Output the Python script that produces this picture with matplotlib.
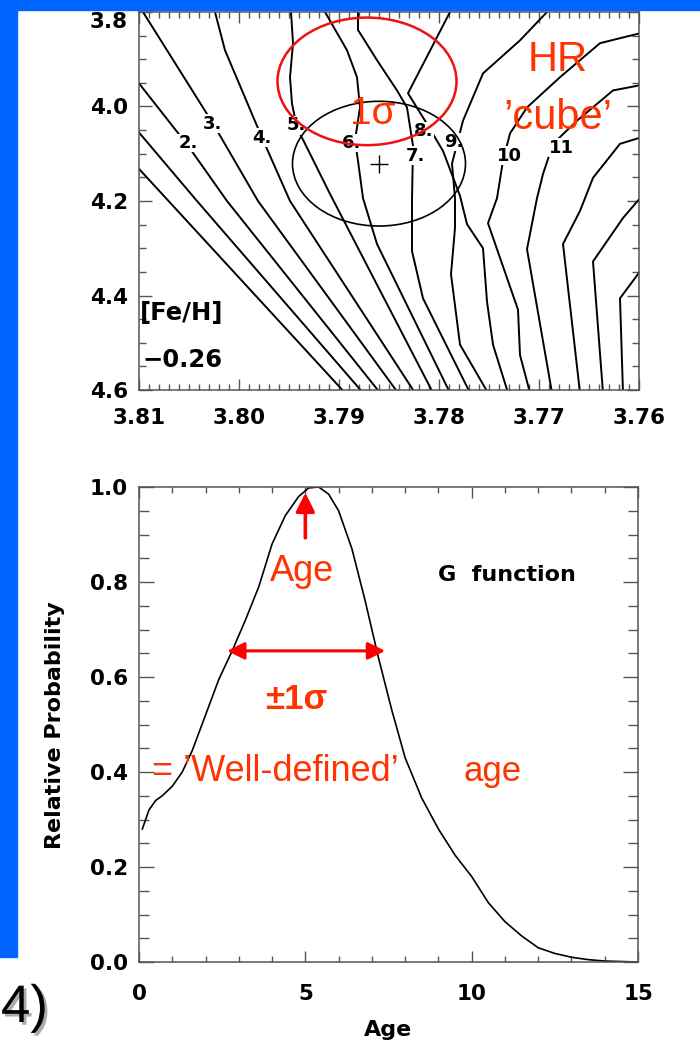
import numpy as np
import matplotlib.pyplot as plt
from matplotlib.patches import Ellipse, Rectangle
from matplotlib.ticker import MultipleLocator, FormatStrFormatter
import matplotlib.patheffects as pe

# isochrones in the (log Teff, log g) plane: (teff list, logg list)
iso_a = ([3.8100, 3.7894], [4.132, 4.606])
iso_b = ([3.8100, 3.8042, 3.7876], [4.055, 4.200, 4.606])
iso_c = ([3.8100, 3.8051, 3.8012, 3.7859], [3.951, 4.083, 4.200, 4.606])
iso_d = ([3.8096, 3.8026, 3.7981, 3.7841], [3.800, 4.036, 4.200, 4.606])
iso_e = ([3.8024, 3.8014, 3.7977, 3.7949, 3.7824], [3.800, 3.881, 4.066, 4.200, 4.606])
iso_f = ([3.7948, 3.7946, 3.7949, 3.7947, 3.7942, 3.7929, 3.7909, 3.7806],
         [3.800, 3.866, 3.938, 3.994, 4.045, 4.100, 4.185, 4.606])
iso_g = ([3.7914, 3.7892, 3.7882, 3.7879, 3.7884, 3.7881, 3.7876, 3.7862, 3.7789],
         [3.800, 3.881, 3.938, 4.002, 4.072, 4.115, 4.194, 4.291, 4.606])
iso_h = ([3.7881, 3.7881, 3.7862, 3.7842, 3.7832, 3.7826, 3.7827, 3.7827, 3.7816, 3.7769],
         [3.800, 3.838, 3.902, 3.966, 4.002, 4.083, 4.200, 4.306, 4.406, 4.606])
iso_i = ([3.7692, 3.7719, 3.7756, 3.7776, 3.7787, 3.7784, 3.7784, 3.7788, 3.7779, 3.7751],
         [3.800, 3.860, 3.930, 4.030, 4.121, 4.194, 4.257, 4.355, 4.504, 4.606])
iso_j = ([3.7789, 3.7831, 3.7814, 3.7796, 3.7779, 3.7772, 3.7756, 3.7752, 3.7746, 3.7731],
         [3.800, 3.972, 4.030, 4.094, 4.189, 4.249, 4.300, 4.413, 4.504, 4.606])
iso_k = ([3.7599, 3.7639, 3.7679, 3.7712, 3.7729, 3.7736, 3.7742, 3.7751, 3.7721, 3.7719, 3.7709],
         [3.845, 3.866, 3.938, 4.002, 4.057, 4.115, 4.194, 4.247, 4.430, 4.526, 4.606])
iso_l = ([3.7599, 3.7626, 3.7662, 3.7686, 3.7696, 3.7702, 3.7712, 3.7687],
         [3.955, 3.966, 4.030, 4.079, 4.143, 4.194, 4.302, 4.606])
iso_m = ([3.7599, 3.7619, 3.7646, 3.7659, 3.7676, 3.7659],
         [4.066, 4.079, 4.151, 4.221, 4.291, 4.606])
iso_n = ([3.7599, 3.7616, 3.7646, 3.7636], [4.194, 4.236, 4.328, 4.606])
iso_o = ([3.7599, 3.7619, 3.7616], [4.349, 4.406, 4.606])
isochrones = [iso_a, iso_b, iso_c, iso_d, iso_e, iso_f, iso_g, iso_h,
              iso_i, iso_j, iso_k, iso_l, iso_m, iso_n, iso_o]

# age labels sitting on the isochrones
iso_labels = ['2.', '3.', '4.', '5.', '6.', '7.', '8.', '9.', '10', '11']
label_teff = [3.8051, 3.8026, 3.7977, 3.7943, 3.7887, 3.7824, 3.7815, 3.7785, 3.7730, 3.7678]
label_logg = [4.077, 4.036, 4.066, 4.040, 4.077, 4.104, 4.052, 4.075, 4.104, 4.087]

# star position and error ellipses
star_teff, star_logg = 3.7860, 4.121
err_teff, err_logg = 0.0173, 0.264
box_teff, box_logg = 3.7872, 3.9468
box_w, box_h = 0.0179, 0.270

# G function (relative probability vs age in Gyr)
age = [0.1, 0.3, 0.5, 0.7, 1.0, 1.3, 1.6, 2.0, 2.4, 2.8, 3.2, 3.6, 4.0, 4.4, 4.8, 5.1,
       5.4, 5.7, 6.0, 6.4, 6.8, 7.2, 7.6, 8.0, 8.5, 9.0, 9.5, 10.0, 10.5, 11.0, 11.5,
       12.0, 12.5, 13.0, 13.5, 14.0, 14.5, 15.0]
prob = [0.28, 0.32, 0.34, 0.35, 0.37, 0.40, 0.445, 0.52, 0.595, 0.655, 0.72, 0.79, 0.88,
        0.94, 0.98, 0.998, 1.0, 0.985, 0.95, 0.87, 0.76, 0.64, 0.53, 0.43, 0.345, 0.28,
        0.225, 0.18, 0.125, 0.085, 0.055, 0.03, 0.018, 0.01, 0.005, 0.002, 0.001, 0.0]
best_age = 5.0
sigma_lo, sigma_hi, sigma_level = 2.65, 7.4, 0.655

plt.rcParams['font.family'] = ['DejaVu Sans']
slide = ['Liberation Sans', 'DejaVu Sans']
red_txt = '#ff3300'
red_mark = '#ff0000'
spine_col = '#555555'

fig = plt.figure(figsize=(7, 10.46), dpi=100)
W, H = 700.0, 1046.0


def style_axes(ax, xmaj, ymaj):
    for s in ax.spines.values():
        s.set_color(spine_col)
        s.set_linewidth(1.1)
    ax.tick_params(which='both', direction='in', top=True, right=True,
                   color=spine_col, width=1.0, labelsize=15.5)
    ax.tick_params(axis='x', which='major', length=xmaj[0])
    ax.tick_params(axis='x', which='minor', length=xmaj[1])
    ax.tick_params(axis='y', which='major', length=ymaj[0], pad=8)
    ax.tick_params(axis='y', which='minor', length=ymaj[1])
    for lbl in ax.get_xticklabels() + ax.get_yticklabels():
        lbl.set_fontweight('bold')


# ---- HR diagram panel ----
ax1 = fig.add_axes([139 / W, 1 - 390 / H, 500 / W, 378 / H])
for tx, gy in isochrones:
    ax1.plot(tx, gy, color='black', lw=1.4, zorder=2)
for s, tx, gy in zip(iso_labels, label_teff, label_logg):
    ax1.text(tx, gy, s, fontsize=13, fontweight='bold', ha='center', va='center', zorder=3,
             bbox=dict(fc='white', ec='none', pad=0.2))

ax1.add_patch(Ellipse((star_teff, star_logg), err_teff, err_logg, fill=False,
                      ec='black', lw=1.2, zorder=4))
ax1.plot([star_teff], [star_logg], marker='+', ms=13, mew=1.0, color='black', zorder=4)
ax1.add_patch(Ellipse((box_teff, box_logg), box_w, box_h, fill=False,
                      ec='#ee1111', lw=1.8, zorder=5))

ax1.text(3.7866, 4.015, '1σ', color=red_txt, fontsize=28, family=slide,
         ha='center', va='center', zorder=6)
ax1.text(3.7681, 3.902, 'HR', color=red_txt, fontsize=30, family=slide,
         ha='center', va='center', zorder=6)
ax1.text(3.7681, 4.025, '’cube’', color=red_txt, fontsize=30, family=slide,
         ha='center', va='center', zorder=6)
ax1.text(3.8099, 4.438, '[Fe/H]', fontsize=17.5, fontweight='bold', ha='left', va='center')
ax1.text(3.8097, 4.536, '−0.26', fontsize=17.5, fontweight='bold', ha='left', va='center')

ax1.set_xlim(3.81, 3.76)
ax1.set_ylim(4.6, 3.8)
ax1.set_xticks([3.81, 3.80, 3.79, 3.78, 3.77, 3.76])
ax1.xaxis.set_minor_locator(MultipleLocator(0.001))
ax1.xaxis.set_major_formatter(FormatStrFormatter('%.2f'))
ax1.set_yticks([3.8, 4.0, 4.2, 4.4, 4.6])
ax1.yaxis.set_minor_locator(MultipleLocator(0.05))
ax1.yaxis.set_major_formatter(FormatStrFormatter('%.1f'))
style_axes(ax1, (8, 4), (9, 5))
ax1.tick_params(axis='x', pad=13)
ax1.get_yticklabels()[0].set_va('top')

# ---- G function panel ----
ax2 = fig.add_axes([139 / W, 1 - 962 / H, 499 / W, 475 / H])
ax2.plot(age, prob, color='black', lw=1.2)

ax2.annotate('', xy=(best_age, 0.988), xytext=(best_age, 0.893),
             arrowprops=dict(arrowstyle='-|>', color=red_mark, lw=2.6,
                             mutation_scale=28, shrinkA=0, shrinkB=0))
ax2.annotate('', xy=(sigma_lo, sigma_level), xytext=(sigma_hi, sigma_level),
             arrowprops=dict(arrowstyle='<|-|>', color=red_mark, lw=2.2,
                             mutation_scale=26, shrinkA=0, shrinkB=0))
ax2.text(4.90, 0.822, 'Age', color=red_txt, fontsize=26, family=slide, ha='center', va='center')
ax2.text(4.72, 0.552, '±1σ', color=red_txt, fontsize=25, family=slide,
         fontweight='bold', ha='center', va='center')
ax2.text(0.39, 0.402, '= ’Well-defined’', color=red_txt, fontsize=26, family=slide,
         ha='left', va='center')
ax2.text(10.64, 0.402, 'age', color=red_txt, fontsize=25, family=slide, ha='center', va='center')
ax2.text(11.06, 0.815, 'G  function', fontsize=16, fontweight='bold', ha='center', va='center')

ax2.set_xlim(0, 15)
ax2.set_ylim(0, 1)
ax2.set_xticks([0, 5, 10, 15])
ax2.xaxis.set_minor_locator(MultipleLocator(1))
ax2.set_yticks([0, 0.2, 0.4, 0.6, 0.8, 1.0])
ax2.yaxis.set_minor_locator(MultipleLocator(0.05))
ax2.yaxis.set_major_formatter(FormatStrFormatter('%.1f'))
style_axes(ax2, (8, 4), (11, 7))
ax2.tick_params(axis='x', pad=16)

fig.text(55 / W, 1 - 725 / H, 'Relative Probability', rotation=90, fontsize=16,
         fontweight='bold', ha='center', va='center')
fig.text(388 / W, 1 - 1030 / H, 'Age', fontsize=16, fontweight='bold', ha='center', va='center')

# slide frame and number
fig.add_artist(Rectangle((0, 1 - 10 / H), 1, 10 / H, transform=fig.transFigure,
                         color='#0066ff', zorder=20))
fig.add_artist(Rectangle((0, 1 - 957 / H), 17 / W, 957 / H, transform=fig.transFigure,
                         color='#0066ff', zorder=20))
fig.text(1 / W, 1 - 1008 / H, '4)', fontsize=38, family=slide, ha='left', va='center',
         path_effects=[pe.withSimplePatchShadow(offset=(2, -2), shadow_rgbFace='#888888', alpha=0.7)])

fig.savefig('out.png', dpi=100)
